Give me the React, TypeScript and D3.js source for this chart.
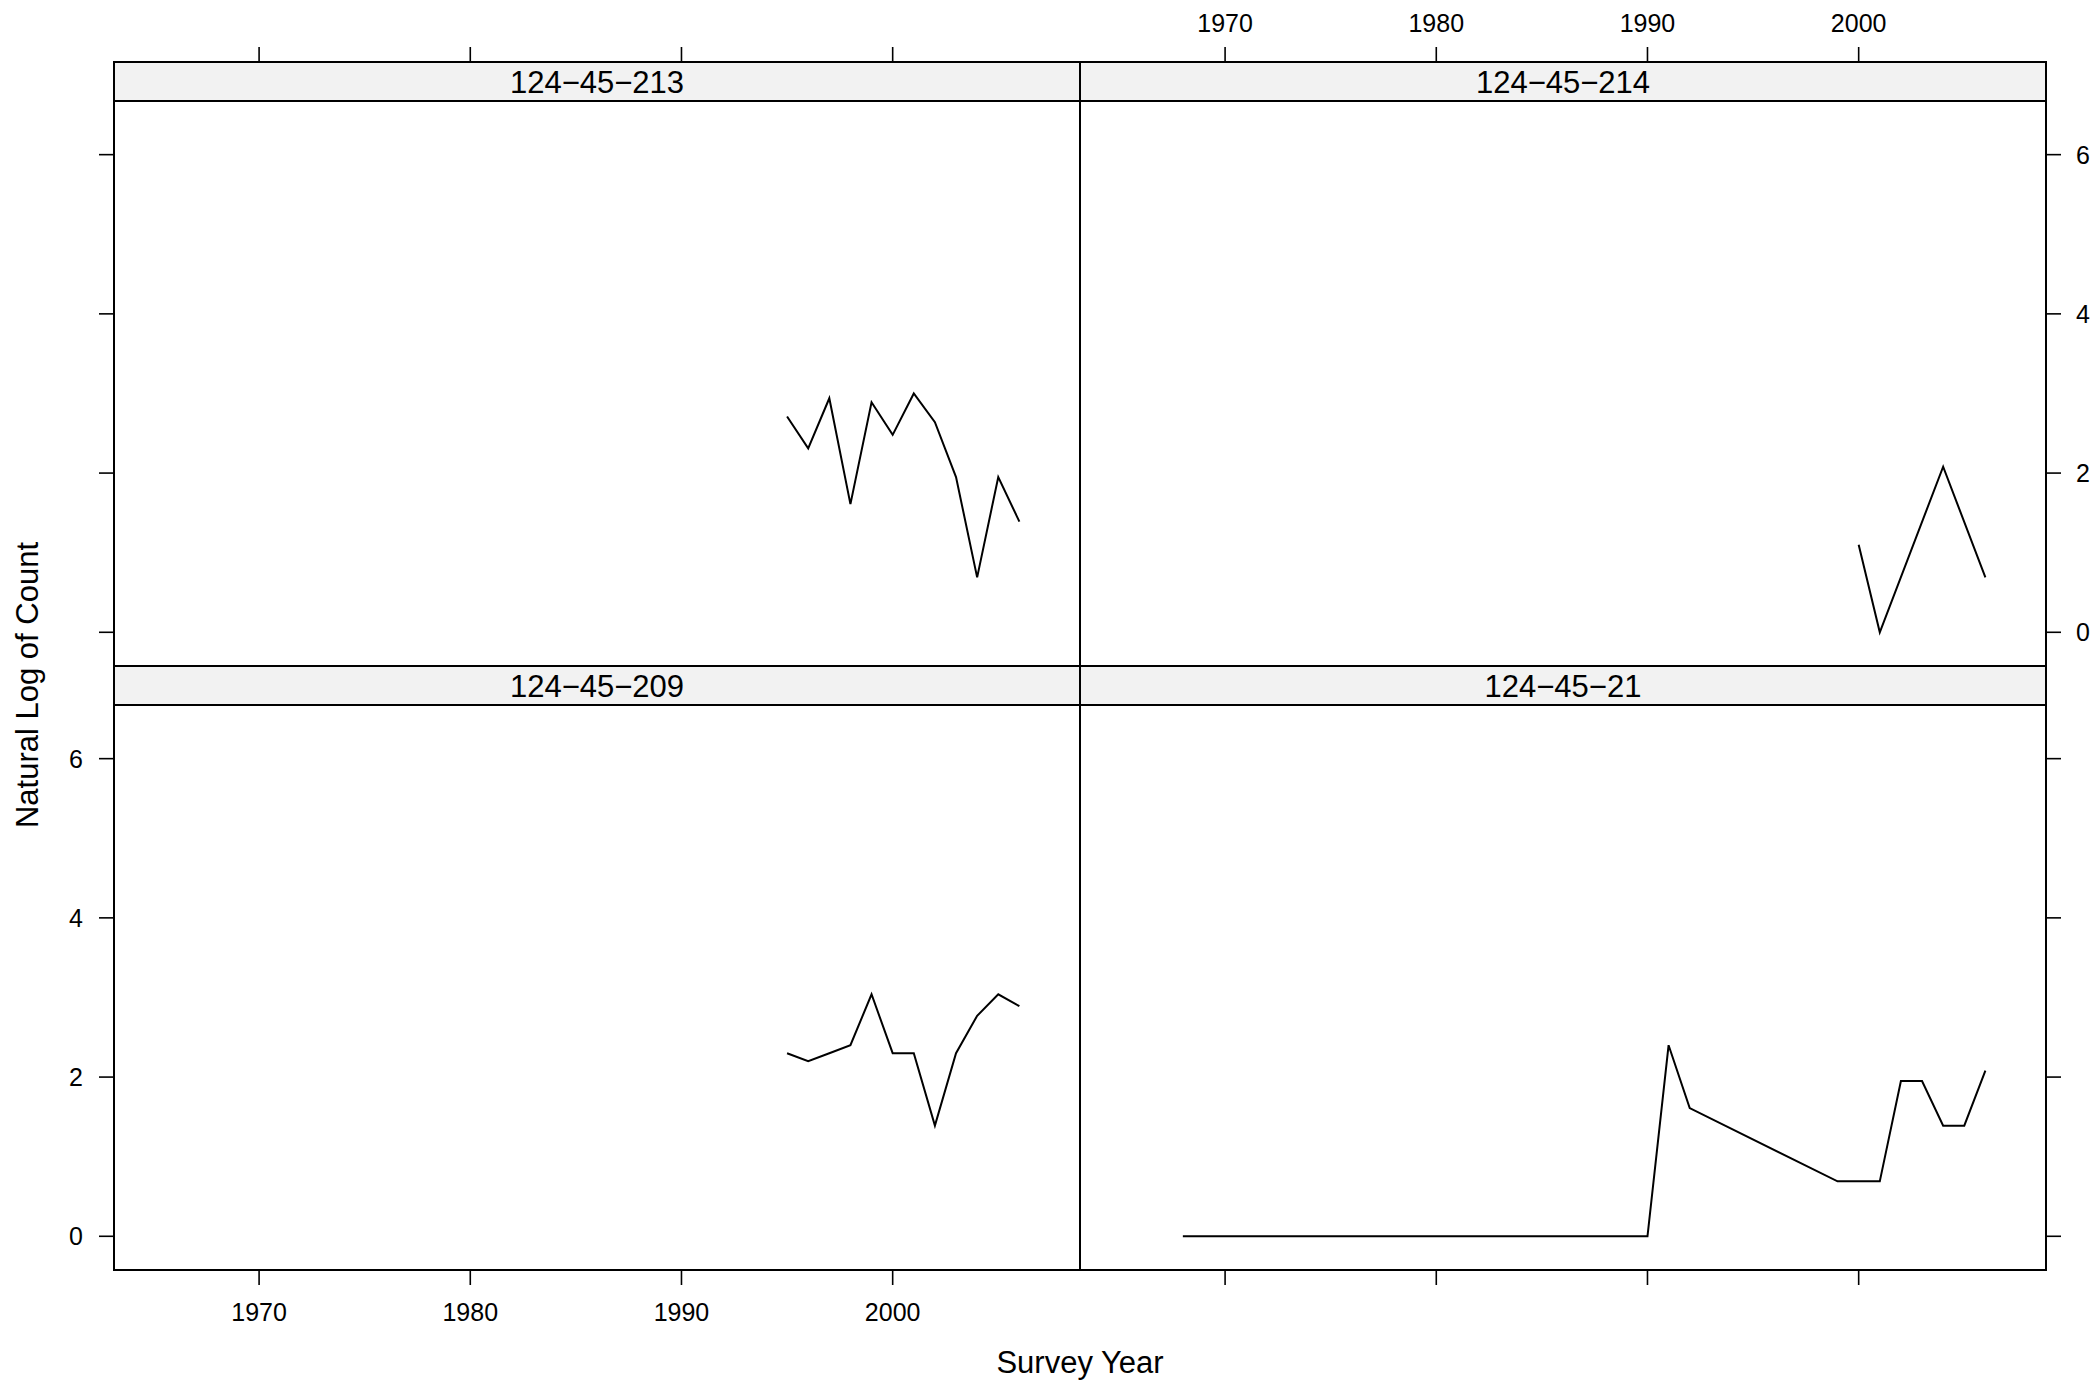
import React from "react";
import * as d3 from "d3";

// ---- data ----
const panelNames = ["124−45−213", "124−45−214", "124−45−209", "124−45−21"];

const years213 = [1995, 1996, 1997, 1998, 1999, 2000, 2001, 2002, 2003, 2004, 2005, 2006];
const vals213 = [2.71, 2.31, 2.94, 1.61, 2.89, 2.48, 3.0, 2.64, 1.95, 0.69, 1.95, 1.39];

const years214 = [2000, 2001, 2004, 2006];
const vals214 = [1.1, 0.0, 2.08, 0.69];

const years209 = [1995, 1996, 1997, 1998, 1999, 2000, 2001, 2002, 2003, 2004, 2005, 2006];
const vals209 = [2.3, 2.2, 2.3, 2.4, 3.04, 2.3, 2.3, 1.39, 2.3, 2.77, 3.04, 2.89];

const years21 = [1968, 1990, 1991, 1992, 1999, 2001, 2002, 2003, 2004, 2005, 2006];
const vals21 = [0, 0, 2.4, 1.61, 0.69, 0.69, 1.95, 1.95, 1.39, 1.39, 2.08];

const xTicks = [1970, 1980, 1990, 2000];
const yTicks = [0, 2, 4, 6];

const xDomain = [1963.13, 2008.87];
const yDomain = [-0.4235, 6.674];

const xTitle = "Survey Year";
const yTitle = "Natural Log of Count";

// ---- layout ----
const W = 2096;
const H = 1380;
const colLeft = [114, 1080];
const colWidth = 966;
const stripTop = [62, 666];
const stripH = 39;
const panelH = 565;
const tickLen = 15;
const font = "'Liberation Sans', Arial, Helvetica, sans-serif";
const tickFont = 25;
const labFont = 31;

type Series = { name: string; xs: number[]; ys: number[]; col: number; row: number };

const panels: Series[] = [
  { name: panelNames[0], xs: years213, ys: vals213, col: 0, row: 0 },
  { name: panelNames[1], xs: years214, ys: vals214, col: 1, row: 0 },
  { name: panelNames[2], xs: years209, ys: vals209, col: 0, row: 1 },
  { name: panelNames[3], xs: years21, ys: vals21, col: 1, row: 1 },
];

export default function App() {
  const xScales = colLeft.map((l) => d3.scaleLinear().domain(xDomain).range([l, l + colWidth]));
  const yScales = stripTop.map((t) =>
    d3.scaleLinear().domain(yDomain).range([t + stripH + panelH, t + stripH])
  );
  const sw = 2;
  const tsw = 1.6;

  return (
    <svg
      width={W}
      height={H}
      style={{ position: "absolute", left: 0, top: 0, background: "#fff" }}
      fontFamily={font}
    >
      <rect x={0} y={0} width={W} height={H} fill="#fff" />
      {panels.map((p, i) => {
        const xs = xScales[p.col];
        const ys = yScales[p.row];
        const st = stripTop[p.row];
        const pt = st + stripH;
        const left = colLeft[p.col];
        const pts = p.xs.map((x, k) => [x, p.ys[k]] as [number, number]);
        const line = d3
          .line<[number, number]>()
          .x((d) => xs(d[0]))
          .y((d) => ys(d[1]));
        return (
          <g key={i}>
            <rect x={left} y={st} width={colWidth} height={stripH} fill="#f2f2f2" stroke="#000" strokeWidth={sw} />
            <text
              x={left + colWidth / 2}
              y={st + 30.7}
              textAnchor="middle"
              fontSize={labFont}
              fill="#000"
            >
              {p.name}
            </text>
            <rect x={left} y={pt} width={colWidth} height={panelH} fill="none" stroke="#000" strokeWidth={sw} />
            <path d={line(pts) || ""} fill="none" stroke="#000" strokeWidth={2} strokeLinejoin="miter" />
          </g>
        );
      })}

      {/* top axis: ticks on both columns, labels on right column */}
      {colLeft.map((_, c) =>
        xTicks.map((t) => {
          const x = xScales[c](t);
          const y0 = stripTop[0];
          return (
            <g key={`tx${c}${t}`}>
              <line x1={x} x2={x} y1={y0} y2={y0 - tickLen} stroke="#000" strokeWidth={tsw} />
              {c === 1 && (
                <text x={x} y={32} textAnchor="middle" fontSize={tickFont} fill="#000">
                  {t}
                </text>
              )}
            </g>
          );
        })
      )}

      {/* bottom axis: ticks both, labels left column */}
      {colLeft.map((_, c) =>
        xTicks.map((t) => {
          const x = xScales[c](t);
          const y0 = stripTop[1] + stripH + panelH;
          return (
            <g key={`bx${c}${t}`}>
              <line x1={x} x2={x} y1={y0} y2={y0 + tickLen} stroke="#000" strokeWidth={tsw} />
              {c === 0 && (
                <text x={x} y={1320.5} textAnchor="middle" fontSize={tickFont} fill="#000">
                  {t}
                </text>
              )}
            </g>
          );
        })
      )}

      {/* left axis: ticks both rows, labels bottom row */}
      {stripTop.map((_, r) =>
        yTicks.map((t) => {
          const y = yScales[r](t);
          const x0 = colLeft[0];
          return (
            <g key={`ly${r}${t}`}>
              <line x1={x0} x2={x0 - tickLen} y1={y} y2={y} stroke="#000" strokeWidth={tsw} />
              {r === 1 && (
                <text x={76} y={y + 9} textAnchor="middle" fontSize={tickFont} fill="#000">
                  {t}
                </text>
              )}
            </g>
          );
        })
      )}

      {/* right axis: ticks both rows, labels top row */}
      {stripTop.map((_, r) =>
        yTicks.map((t) => {
          const y = yScales[r](t);
          const x0 = colLeft[1] + colWidth;
          return (
            <g key={`ry${r}${t}`}>
              <line x1={x0} x2={x0 + tickLen} y1={y} y2={y} stroke="#000" strokeWidth={tsw} />
              {r === 0 && (
                <text x={2083} y={y + 9} textAnchor="middle" fontSize={tickFont} fill="#000">
                  {t}
                </text>
              )}
            </g>
          );
        })
      )}

      <text x={1080} y={1373} textAnchor="middle" fontSize={labFont} fill="#000">
        {xTitle}
      </text>
      <text
        transform={`translate(38, 685) rotate(-90)`}
        textAnchor="middle"
        fontSize={labFont}
        fill="#000"
      >
        {yTitle}
      </text>
    </svg>
  );
}
